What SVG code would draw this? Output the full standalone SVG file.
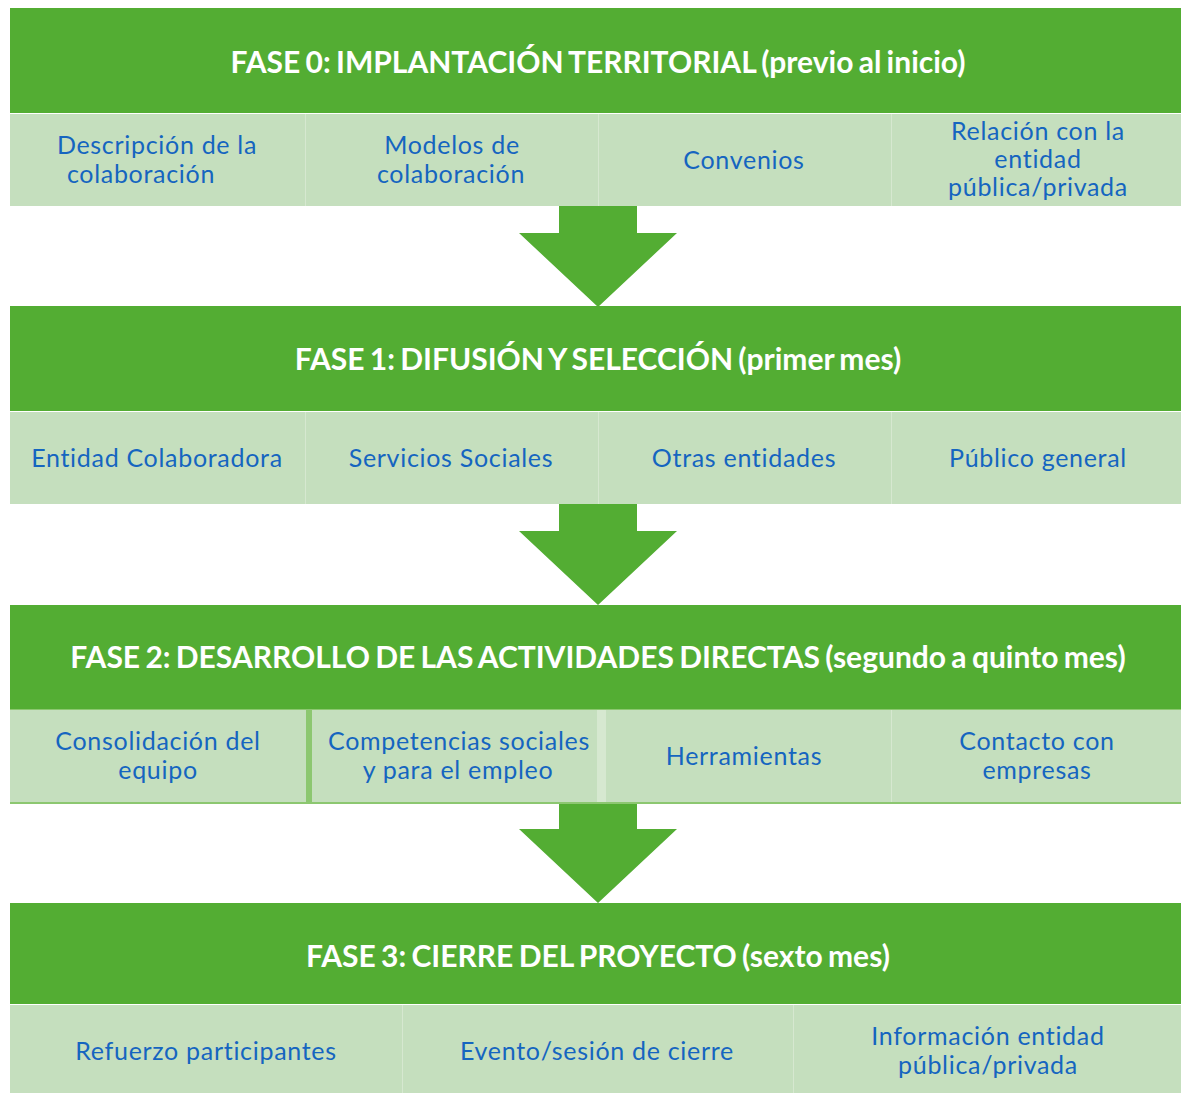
<svg xmlns="http://www.w3.org/2000/svg" width="1181" height="1093" viewBox="0 0 1181 1093">
<style>
.hdr{fill:#53ad33}
.cell{fill:#c5dfbe}
.sep{fill:#d6e8d0}
.ht{font-family:Lato,"Open Sans",sans-serif;font-weight:bold;font-size:30px;fill:#ffffff;text-anchor:middle;word-spacing:-2px}
.ct{font-family:Lato,"Open Sans",sans-serif;font-size:25px;fill:#1565c0;text-anchor:middle;letter-spacing:0.7px}
.arrow{fill:#53ad33}
</style>
<rect x="0" y="0" width="1181" height="1093" fill="#ffffff"/>

<g id="connectors">
<polygon class="arrow" points="559,206 637,206 637,233 677,233 598,307 519,233 559,233"/>
<polygon class="arrow" points="559,504 637,504 637,531 677,531 598,605 519,531 559,531"/>
<polygon class="arrow" points="559,802 637,802 637,829 677,829 598,903 519,829 559,829"/>
</g>

<g id="fase0">
<rect class="hdr" x="10" y="8" width="1171" height="105"/>
<text class="ht" x="598" y="73">FASE 0: IMPLANTACIÓN TERRITORIAL (previo al inicio)</text>
</g>
<g id="f0c1"><rect class="cell" x="10" y="114" width="295" height="92"/>
<text class="ct" x="157" y="154">Descripción de la</text><text class="ct" x="141" y="183">colaboración</text></g>
<g id="f0c2"><rect class="cell" x="306" y="114" width="292" height="92"/>
<text class="ct" x="452" y="154">Modelos de</text><text class="ct" x="451" y="183">colaboración</text></g>
<g id="f0c3"><rect class="cell" x="599" y="114" width="292" height="92"/>
<text class="ct" x="744" y="169">Convenios</text></g>
<g id="f0c4"><rect class="cell" x="892" y="114" width="289" height="92"/>
<text class="ct" x="1038" y="140">Relación con la</text><text class="ct" x="1038" y="168">entidad</text><text class="ct" x="1038" y="196">pública/privada</text></g>

<g id="fase1">
<rect class="hdr" x="10" y="306" width="1171" height="105"/>
<text class="ht" x="598" y="370">FASE 1: DIFUSIÓN Y SELECCIÓN (primer mes)</text>
</g>
<g id="f1c1"><rect class="cell" x="10" y="412" width="295" height="92"/>
<text class="ct" x="157" y="467">Entidad Colaboradora</text></g>
<g id="f1c2"><rect class="cell" x="306" y="412" width="292" height="92"/>
<text class="ct" x="451" y="467">Servicios Sociales</text></g>
<g id="f1c3"><rect class="cell" x="599" y="412" width="292" height="92"/>
<text class="ct" x="744" y="467">Otras entidades</text></g>
<g id="f1c4"><rect class="cell" x="892" y="412" width="289" height="92"/>
<text class="ct" x="1038" y="467">Público general</text></g>

<g id="fase2">
<rect class="hdr" x="10" y="605" width="1171" height="104"/>
<text class="ht" x="598" y="668">FASE 2: DESARROLLO DE LAS ACTIVIDADES DIRECTAS (segundo a quinto mes)</text>
</g>
<rect x="10" y="709" width="1171" height="95" fill="#8cc770"/>
<g id="f2c1"><rect class="cell" x="10" y="710" width="296" height="92"/>
<text class="ct" x="158" y="750">Consolidación del</text><text class="ct" x="158" y="779">equipo</text></g>
<g id="f2c2"><rect class="cell" x="312" y="710" width="286" height="92"/>
<rect class="sep" x="597" y="710" width="9" height="92"/>
<text class="ct" x="459" y="750">Competencias sociales</text><text class="ct" x="458" y="779">y para el empleo</text></g>
<g id="f2c3"><rect class="cell" x="606" y="710" width="285" height="92"/>
<text class="ct" x="744" y="765">Herramientas</text></g>
<g id="f2c4"><rect class="cell" x="892" y="710" width="289" height="92"/>
<text class="ct" x="1037" y="750">Contacto con</text><text class="ct" x="1037" y="779">empresas</text></g>

<g id="fase3">
<rect class="hdr" x="10" y="903" width="1171" height="101"/>
<text class="ht" x="598" y="967">FASE 3: CIERRE DEL PROYECTO (sexto mes)</text>
</g>
<g id="f3c1"><rect class="cell" x="10" y="1005" width="392" height="88"/>
<text class="ct" x="206" y="1060">Refuerzo participantes</text></g>
<g id="f3c2"><rect class="cell" x="403" y="1005" width="390" height="88"/>
<text class="ct" x="597" y="1060">Evento/sesión de cierre</text></g>
<g id="f3c3"><rect class="cell" x="794" y="1005" width="387" height="88"/>
<text class="ct" x="988" y="1045">Información entidad</text><text class="ct" x="988" y="1074">pública/privada</text></g>

<g id="separators">
<rect class="sep" x="305" y="114" width="1" height="92"/>
<rect class="sep" x="598" y="114" width="1" height="92"/>
<rect class="sep" x="891" y="114" width="1" height="92"/>
<rect class="sep" x="305" y="412" width="1" height="92"/>
<rect class="sep" x="598" y="412" width="1" height="92"/>
<rect class="sep" x="891" y="412" width="1" height="92"/>
<rect class="sep" x="891" y="710" width="1" height="92"/>
<rect class="sep" x="402" y="1005" width="1" height="88"/>
<rect class="sep" x="793" y="1005" width="1" height="88"/>
</g>
</svg>
